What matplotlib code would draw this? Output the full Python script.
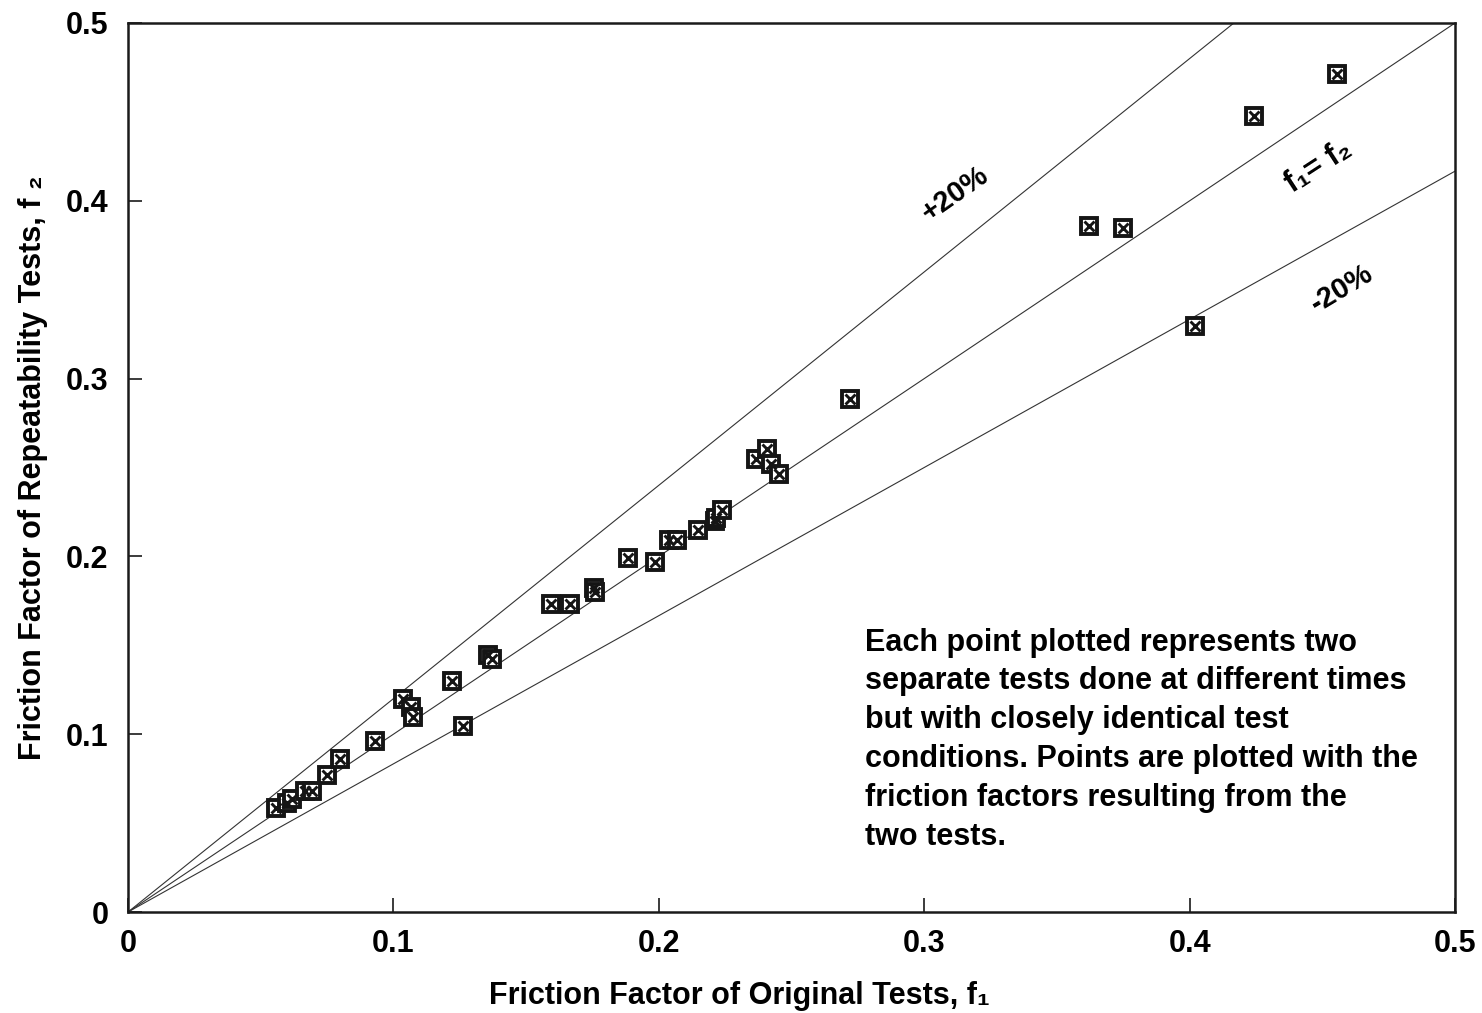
import matplotlib
matplotlib.use("Agg")
import matplotlib.pyplot as plt
import numpy as np

plt.rcParams['font.family'] = ['Liberation Sans', 'DejaVu Sans']
plt.rcParams['font.weight'] = 'bold'

# Friction factors: original tests (f1) vs repeatability tests (f2)
f1 = [0.0558, 0.0599, 0.0618, 0.0667, 0.0693, 0.0750, 0.0799, 0.0931,
      0.1036, 0.1066, 0.1074, 0.1221, 0.1262, 0.1355, 0.1372,
      0.1594, 0.1665, 0.1756, 0.1760, 0.1884, 0.1986, 0.2038, 0.2069,
      0.2148, 0.2212, 0.2216, 0.2238, 0.2366, 0.2408, 0.2423, 0.2453,
      0.2720, 0.3621, 0.3749, 0.4020, 0.4243, 0.4555]
f2 = [0.0585, 0.0613, 0.0636, 0.0681, 0.0681, 0.0771, 0.0861, 0.0962,
      0.1198, 0.1153, 0.1097, 0.1299, 0.1046, 0.1445, 0.1423,
      0.1732, 0.1732, 0.1822, 0.1800, 0.1991, 0.1969, 0.2092, 0.2092,
      0.2148, 0.2198, 0.2215, 0.2261, 0.2548, 0.2604, 0.2520, 0.2463,
      0.2885, 0.3858, 0.3847, 0.3296, 0.4477, 0.4713]

ticks = [0, 0.1, 0.2, 0.3, 0.4, 0.5]
tick_labels = ['0', '0.1', '0.2', '0.3', '0.4', '0.5']

fig = plt.figure(figsize=(14.82, 10.13), dpi=100)
ax = fig.add_axes([0.0864, 0.0997, 0.8954, 0.8776])

# Reference lines: equality and +/-20 % bands
xl = np.array([0.0, 0.5])
ax.plot(xl, xl, color='#333333', lw=0.8)
ax.plot(xl, 1.2 * xl, color='#333333', lw=0.8)
ax.plot(xl, xl / 1.2, color='#333333', lw=0.8)

# Boxed-cross markers
ax.plot(f1, f2, ls='none', marker='s', ms=11.5, mfc='white', mec='#151515', mew=2.8, zorder=3)
ax.plot(f1, f2, ls='none', marker='x', ms=6.5, mec='#151515', mew=2.1, zorder=4)

ax.set_xlim(0, 0.5)
ax.set_ylim(0, 0.5)
ax.set_xticks(ticks)
ax.set_xticklabels(tick_labels)
ax.set_yticks(ticks)
ax.set_yticklabels(tick_labels)
ax.tick_params(direction='in', length=10, width=1.2, labelsize=22, color='#1a1a1a')
ax.tick_params(axis='x', pad=12)
ax.tick_params(axis='y', pad=14)
for lab in ax.get_xticklabels() + ax.get_yticklabels():
    lab.set_fontweight('bold')
for sp in ax.spines.values():
    sp.set_linewidth(1.8)
    sp.set_color('#1a1a1a')

ax.set_xlabel('Friction Factor of Original Tests, f\u2081', fontsize=22, fontweight='bold')
ax.xaxis.set_label_coords(0.461, -0.078)
ax.set_ylabel('Friction Factor of Repeatability Tests, f \u2082', fontsize=22, fontweight='bold', labelpad=13)

# Line labels
ax.text(0.3115, 0.404, '+20%', fontsize=21, fontweight='bold', rotation=35,
        ha='center', va='center')
ax.text(0.4485, 0.419, 'f\u2081= f\u2082', fontsize=22, fontweight='bold', rotation=33,
        ha='center', va='center')
ax.text(0.4575, 0.3505, '-20%', fontsize=21, fontweight='bold', rotation=31,
        ha='center', va='center')

note = ("Each point plotted represents two\n"
        "separate tests done at different times\n"
        "but with closely identical test\n"
        "conditions. Points are plotted with the\n"
        "friction factors resulting from the\n"
        "two tests.")
ax.text(0.2775, 0.1600, note, fontsize=22, fontweight='bold', ha='left', va='top',
        linespacing=1.39)

fig.savefig('out.png', dpi=100, facecolor='white')
